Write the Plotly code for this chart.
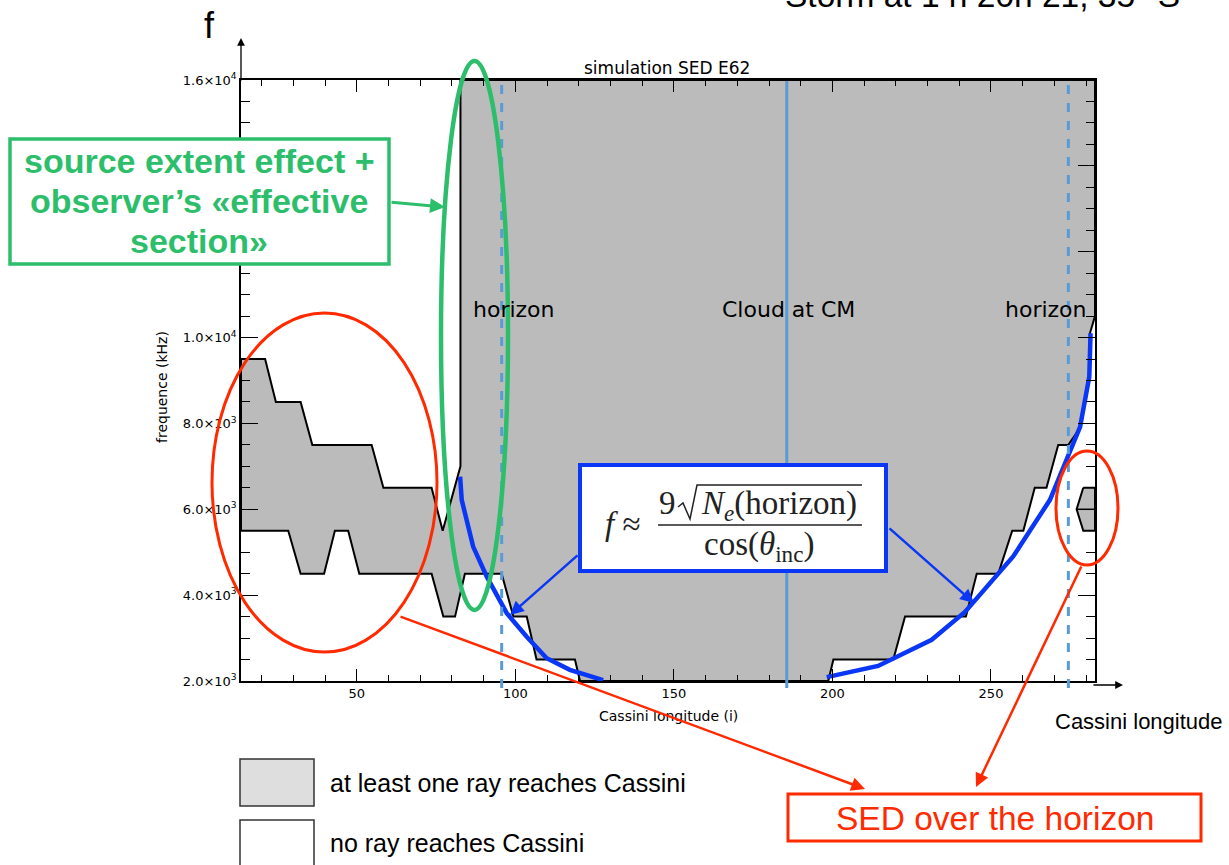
import plotly.graph_objects as go

# ---------------- data (longitude in degrees, frequency in kHz) ----------------
# grey region: at least one ray reaches Cassini (closed polygon)
region_lon = [82.7, 282.8, 282.8, 281.2, 281.0, 278.1, 274.4, 271.2, 267.5, 263.8, 260.2,
              256.7, 252.3, 245.5, 242.1, 222.9, 219.2, 200.3, 198.7,
              120.4, 118.8, 106.7, 103.6, 99.4, 95.7, 84.1, 81.0, 77.3, 73.6, 50.8, 47.3,
              43.1, 39.7, 32.3, 28.4, 13.5,
              13.5, 21.1, 24.5, 32.3, 36.0, 54.7, 58.4, 73.6, 77.1, 82.7, 82.7]
region_freq = [16000, 16000, 10500, 10100, 9100, 7900, 7500, 7500, 6500, 6500, 5500,
               5500, 4500, 4500, 3500, 3500, 2500, 2500, 2000,
               2000, 2500, 2500, 3500, 3500, 4500, 4500, 3500, 3500, 4500, 4500, 5500,
               5500, 4500, 4500, 5500, 5500,
               9500, 9500, 8500, 8500, 7500, 7500, 6500, 6500, 5500, 7000, 16000]

# small grey patch beyond the horizon (SED over the horizon)
patch_lon = [279.1, 282.8, 282.8, 279.1, 277.0, 279.1]
patch_freq = [6500, 6500, 5500, 5500, 6000, 6500]
patch_mid_lon = [277.0, 282.8]
patch_mid_freq = [6000, 6000]

# formula curve f ~ 9 sqrt(Ne)/cos(theta_inc)
curve_left_lon = [82.6, 83.1, 86.7, 91.0, 97.3, 103.6, 109.9, 117.2, 127.7]
curve_left_freq = [6760, 6220, 5130, 4430, 3580, 3030, 2530, 2260, 2020]
curve_right_lon = [198.2, 205.6, 214.4, 231.3, 241.8, 257.0, 268.6, 278.1, 281.0, 281.4]
curve_right_freq = [2090, 2220, 2350, 2960, 3610, 4900, 6220, 7920, 9090, 10100]

horizon_lons = [95.7, 274.4]
cloud_cm_lon = 185.6

x_range = [13.5, 282.8]
y_range = [2000, 16000]
x_tickvals = [50, 100, 150, 200, 250]
y_tickvals = [2000, 4000, 6000, 8000, 10000, 12000, 14000, 16000]
y_ticktext = ["2.0×10<sup>3</sup>", "4.0×10<sup>3</sup>", "6.0×10<sup>3</sup>",
              "8.0×10<sup>3</sup>", "1.0×10<sup>4</sup>", "", "", "1.6×10<sup>4</sup>"]

# ---------------- layout helpers (pixel -> paper) ----------------
W, H = 1229, 865
L, R, T, B = 241, 1095, 80, 681


def px(x):
    return (x - L) / (R - L)


def py(y):
    return (B - y) / (B - T)


GREEN = "#2DBE6C"
RED = "#FF2A00"
BLUE = "#0A36F5"
LBLUE = "#5B9BD5"

fig = go.Figure()
fig.add_trace(go.Scatter(x=region_lon, y=region_freq, mode="lines", fill="toself",
                         fillcolor="#BBBBBB", line=dict(color="black", width=2),
                         hoverinfo="skip"))
fig.add_trace(go.Scatter(x=patch_lon, y=patch_freq, mode="lines", fill="toself",
                         fillcolor="#BBBBBB", line=dict(color="black", width=2)))
fig.add_trace(go.Scatter(x=patch_mid_lon, y=patch_mid_freq, mode="lines",
                         line=dict(color="black", width=1.5)))
fig.add_trace(go.Scatter(x=curve_left_lon, y=curve_left_freq, mode="lines",
                         line=dict(color=BLUE, width=4.5)))
fig.add_trace(go.Scatter(x=curve_right_lon, y=curve_right_freq, mode="lines",
                         line=dict(color=BLUE, width=4.5)))

shapes = []
for hl in horizon_lons:
    shapes.append(dict(type="line", xref="x", yref="paper", x0=hl, x1=hl,
                       y0=py(688), y1=py(83), line=dict(color=LBLUE, width=3, dash="9px,9px"),
                       layer="above"))
shapes.append(dict(type="line", xref="x", yref="paper", x0=cloud_cm_lon, x1=cloud_cm_lon,
                   y0=py(688), y1=py(81), line=dict(color=LBLUE, width=3), layer="above"))


def rect(x0, y0, x1, y1, color, lw, fill="white"):
    return dict(type="rect", xref="paper", yref="paper", x0=px(x0), x1=px(x1),
                y0=py(y1), y1=py(y0), line=dict(color=color, width=lw),
                fillcolor=fill, layer="above")


def ellipse(x0, y0, x1, y1, color, lw):
    return dict(type="circle", xref="paper", yref="paper", x0=px(x0), x1=px(x1),
                y0=py(y1), y1=py(y0), line=dict(color=color, width=lw), layer="above")


def seg(x0, y0, x1, y1, color, lw):
    return dict(type="line", xref="paper", yref="paper", x0=px(x0), x1=px(x1),
                y0=py(y0), y1=py(y1), line=dict(color=color, width=lw), layer="above")


# formula box
shapes.append(rect(580, 465, 886, 571, BLUE, 4))
# radical sign
rad = [(678, 507), (683, 503), (690, 519), (697, 485), (862, 485)]
path = "M " + " L ".join(f"{px(a):.5f},{py(b):.5f}" for a, b in rad)
shapes.append(dict(type="path", xref="paper", yref="paper", path=path,
                   line=dict(color="#222222", width=1.5), layer="above"))
shapes.append(seg(658, 525, 862, 525, "#222222", 1.5))
# green box and ellipse
shapes.append(rect(10, 139, 389, 264, GREEN, 3.5))
shapes.append(ellipse(441, 61, 508, 610, GREEN, 4.5))
# red ellipses and box
shapes.append(ellipse(212, 313, 437, 652, RED, 3))
shapes.append(ellipse(1056, 451, 1118, 565, RED, 3))
shapes.append(rect(788, 794, 1201, 841, RED, 3))
# legend boxes
shapes.append(rect(240, 759, 314, 806, "#333333", 1.5, fill="#DEDEDE"))
shapes.append(rect(240, 820, 314, 872, "#333333", 1.5, fill="white"))


def txt(x, y, s, size, color="black", family="Liberation Sans", xanchor="center",
        yanchor="middle", **kw):
    return dict(x=px(x), y=py(y), xref="paper", yref="paper", text=s, showarrow=False,
                font=dict(size=size, color=color, family=family),
                xanchor=xanchor, yanchor=yanchor, **kw)


def arrow(hx, hy, tx, ty, color, width, head=2, size=1.0):
    return dict(x=px(hx), y=py(hy), xref="paper", yref="paper", ax=tx - hx, ay=ty - hy,
                axref="pixel", ayref="pixel", text="", showarrow=True, arrowhead=head,
                arrowsize=size, arrowwidth=width, arrowcolor=color)


ann = [
    txt(209, 25, "f", 36),
    txt(783, -4, "Storm at 1 h 20h 21, 35° S", 33.5, xanchor="left"),
    txt(667, 68, "simulation SED E62", 17, family="DejaVu Sans"),
    txt(162, 387, "frequence (kHz)", 14, family="DejaVu Sans", textangle=-90),
    txt(668, 716, "Cassini longitude (i)", 14, family="DejaVu Sans"),
    txt(1139, 721, "Cassini longitude", 22),
    txt(514, 309, "horizon", 22, family="DejaVu Sans"),
    txt(788, 309, "Cloud at CM", 22, family="DejaVu Sans"),
    txt(1046, 309, "horizon", 22, family="DejaVu Sans"),
    txt(199, 161, "<b>source extent effect +</b>", 34, color=GREEN),
    txt(199, 201, "<b>observer’s «effective</b>", 34, color=GREEN),
    txt(199, 241, "<b>section»</b>", 34, color=GREEN),
    txt(995, 818, "SED over the horizon", 33.5, color=RED),
    txt(328, 783, "at least one ray reaches Cassini", 25, xanchor="left"),
    txt(328, 843, "no ray reaches Cassini", 25, xanchor="left"),
    # formula
    txt(623, 524, "<i>f</i> ≈", 33, color="#222222", family="Liberation Serif"),
    txt(667, 503, "9", 33, color="#222222", family="Liberation Serif"),
    txt(779, 505, "<i>N</i><sub><i>e</i></sub>(horizon)", 33, color="#222222",
        family="Liberation Serif"),
    txt(759, 546, "cos(<i>θ</i><sub>inc</sub>)", 33, color="#222222",
        family="Liberation Serif"),
    # arrows
    arrow(241, 38, 241, 82, "black", 1.3, head=2, size=1.2),
    arrow(1123, 685, 1092, 685, "black", 1.3, head=2, size=1.2),
    arrow(445, 207, 390, 202, GREEN, 3, head=2, size=1.0),
    arrow(865, 789, 399, 616, RED, 2.5, head=2, size=1.1),
    arrow(976, 787, 1082, 565, RED, 2.5, head=2, size=1.1),
    arrow(510, 615, 579, 554, BLUE, 2.5, head=2, size=1.1),
    arrow(974, 603, 888, 527, BLUE, 2.5, head=2, size=1.1),
]

axis_common = dict(showgrid=False, zeroline=False, showline=True, linecolor="black",
                   linewidth=1.5, mirror="ticks", ticks="inside", tickcolor="black",
                   tickfont=dict(family="DejaVu Sans", size=13, color="black"))

fig.update_xaxes(range=x_range, tickvals=x_tickvals, ticklen=12, tickwidth=1.2,
                 minor=dict(dtick=10, tick0=0, ticks="inside", ticklen=6,
                            tickcolor="black", tickwidth=1),
                 **axis_common)
fig.update_yaxes(range=y_range, tickvals=y_tickvals, ticktext=y_ticktext, ticklen=17,
                 tickwidth=1.2,
                 minor=dict(dtick=500, tick0=0, ticks="inside", ticklen=9,
                            tickcolor="black", tickwidth=1),
                 **axis_common)

fig.update_layout(width=W, height=H, autosize=False,
                  margin=dict(l=L, r=W - R, t=T, b=H - B, pad=0),
                  plot_bgcolor="white", paper_bgcolor="white", showlegend=False,
                  shapes=shapes, annotations=ann)

fig.write_html("out.html", config={"displayModeBar": False},
               post_script="document.body.style.margin='0';document.body.style.overflow='hidden';")
